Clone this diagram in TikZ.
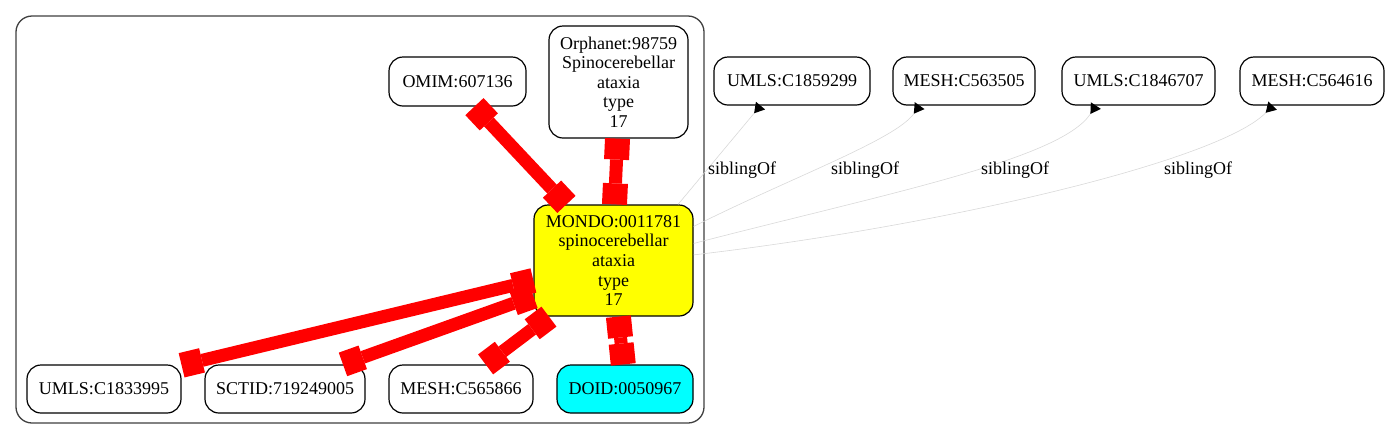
\documentclass[tikz,border=0pt]{standalone}
\usepackage{fontspec}
\setmainfont{Liberation Serif}
\usetikzlibrary{arrows.meta}
\definecolor{gvred}{RGB}{255,0,0}
\definecolor{gvyellow}{RGB}{255,255,0}
\definecolor{gvcyan}{RGB}{0,255,255}
\definecolor{gvgray}{RGB}{215,215,215}
\begin{document}
\begin{tikzpicture}[x=1pt,y=-1pt,
  txt/.style={font=\fontsize{18pt}{19.6pt}\selectfont},
  nd/.style={txt, draw=black, line width=1.2pt, rounded corners=14pt, inner sep=0pt, align=center},
  clusterbox/.style={draw=black!75, line width=1.3pt, rounded corners=16pt},
  redge/.style={draw=gvred, line width=13pt,
    {Square[length=21pt,width=25pt,line width=0pt]}-{Square[length=21pt,width=25pt,line width=0pt]}},
  sedge/.style={draw=gvgray, line width=0.55pt,
    -{Triangle[reversed,length=10pt,width=12pt,line width=0pt,color=black]}},
  lbl/.style={txt, inner sep=0pt}]
\useasboundingbox (0,0) rectangle (1389,440);
\fill[white] (0,0) rectangle (1389,440);

% cluster
\draw[clusterbox] (16,16) rectangle (704,423);

% nodes inside the cluster
\node[nd, minimum width=137pt, minimum height=49pt] (omim) at (457.5,81.5) {OMIM:607136};
\node[nd, minimum width=139pt, minimum height=112pt] (orph) at (618.5,82) {Orphanet:98759\\Spinocerebellar\\ataxia\\type\\17};
\node[nd, fill=gvyellow, minimum width=159pt, minimum height=111pt] (mondo) at (613.5,260.5) {MONDO:0011781\\spinocerebellar\\ataxia\\type\\17};
\node[nd, minimum width=154pt, minimum height=48pt] (umlsA) at (104,389) {UMLS:C1833995};
\node[nd, minimum width=160pt, minimum height=48pt] (sctid) at (285,389) {SCTID:719249005};
\node[nd, minimum width=144pt, minimum height=48pt] (meshA) at (461,389) {MESH:C565866};
\node[nd, fill=gvcyan, minimum width=136pt, minimum height=48pt] (doid) at (625,389) {DOID:0050967};

% sibling nodes
\node[nd, minimum width=156pt, minimum height=48pt] (umlsB) at (792,81) {UMLS:C1859299};
\node[nd, minimum width=142pt, minimum height=48pt] (meshB) at (964,81) {MESH:C563505};
\node[nd, minimum width=153pt, minimum height=48pt] (umlsC) at (1138.5,81) {UMLS:C1846707};
\node[nd, minimum width=144pt, minimum height=48pt] (meshC) at (1312,81) {MESH:C564616};

% red equivalence edges
\draw[redge] (omim.-56) -- (mondo.130);
\draw[redge] (orph.-91.5) -- (mondo.89.5);
\draw[redge] (umlsA.17) -- (mondo.194.5);
\draw[redge] (sctid.23.2) -- (mondo.204.6);
\draw[redge] (meshA.45) -- (mondo.221.2);
\draw[redge] (doid.94.8) -- (mondo.-85.4);

% siblingOf edges
\draw[sedge] (mondo.41.6) -- (umlsB.218.7);
\draw[sedge] (mondo.23.5) .. controls (790,178) and (895,140) .. (meshB.209.7);
\draw[sedge] (mondo.12.4) .. controls (880,195) and (1060,160) .. (umlsC.210.65);
\draw[sedge] (mondo.4.7) .. controls (950,225) and (1220,160) .. (meshC.212.3);

\node[lbl] (l1) at (742,170) {siblingOf};
\node[lbl] (l2) at (865,170) {siblingOf};
\node[lbl] (l3) at (1015,170) {siblingOf};
\node[lbl] (l4) at (1198,170) {siblingOf};
\end{tikzpicture}
\end{document}
